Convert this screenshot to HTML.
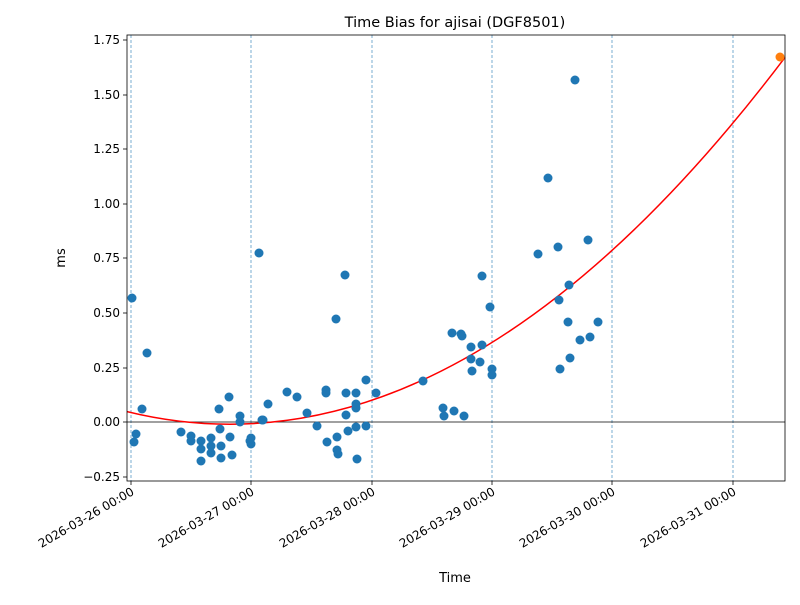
<!DOCTYPE html>
<html><head><meta charset="utf-8"><style>
body{margin:0;background:#fff}
text{font-family:"DejaVu Sans","Liberation Sans",sans-serif;fill:#000}
</style></head><body>
<svg width="800" height="600" xmlns="http://www.w3.org/2000/svg">
<rect width="800" height="600" fill="#fff"/>
<text x="455" y="27" font-size="14.5" text-anchor="middle">Time Bias for ajisai (DGF8501)</text>
<g stroke="#1f77b4" stroke-width="0.6" stroke-dasharray="3,2">
<line x1="131" y1="35" x2="131" y2="481"/>
<line x1="251" y1="35" x2="251" y2="481"/><line x1="372" y1="35" x2="372" y2="481"/>
<line x1="492" y1="35" x2="492" y2="481"/><line x1="612" y1="35" x2="612" y2="481"/>
<line x1="733" y1="35" x2="733" y2="481"/>
</g>
<line x1="127" y1="422" x2="785" y2="422" stroke="#000" stroke-width="0.8"/>
<path d="M127,411.6 Q456,492.3 785,57.4" fill="none" stroke="red" stroke-width="1.5"/>
<g fill="#1f77b4">
<circle cx="132" cy="298" r="4.5"/><circle cx="134" cy="442" r="4.5"/><circle cx="136" cy="434" r="4.5"/><circle cx="142" cy="409" r="4.5"/><circle cx="147" cy="353" r="4.5"/>
<circle cx="181" cy="432" r="4.5"/><circle cx="191" cy="436" r="4.5"/><circle cx="191" cy="441" r="4.5"/><circle cx="201" cy="441" r="4.5"/><circle cx="201" cy="449" r="4.5"/><circle cx="201" cy="461" r="4.5"/><circle cx="211" cy="438" r="4.5"/><circle cx="211" cy="446" r="4.5"/><circle cx="211" cy="453" r="4.5"/><circle cx="219" cy="409" r="4.5"/><circle cx="220" cy="429" r="4.5"/><circle cx="221" cy="446" r="4.5"/><circle cx="221" cy="458" r="4.5"/><circle cx="229" cy="397" r="4.5"/><circle cx="230" cy="437" r="4.5"/><circle cx="232" cy="455" r="4.5"/><circle cx="240" cy="416" r="4.5"/><circle cx="240" cy="422" r="4.5"/>
<circle cx="250" cy="441" r="4.5"/><circle cx="251" cy="444" r="4.5"/><circle cx="251" cy="438" r="4.5"/><circle cx="259" cy="253" r="4.5"/><circle cx="262" cy="420" r="4.5"/><circle cx="263" cy="420" r="4.5"/><circle cx="268" cy="404" r="4.5"/>
<circle cx="287" cy="392" r="4.5"/><circle cx="297" cy="397" r="4.5"/><circle cx="307" cy="413" r="4.5"/><circle cx="317" cy="426" r="4.5"/><circle cx="326" cy="390" r="4.5"/><circle cx="326" cy="393" r="4.5"/><circle cx="327" cy="442" r="4.5"/><circle cx="336" cy="319" r="4.5"/><circle cx="337" cy="437" r="4.5"/><circle cx="337" cy="450" r="4.5"/><circle cx="338" cy="454" r="4.5"/><circle cx="345" cy="275" r="4.5"/><circle cx="346" cy="393" r="4.5"/><circle cx="346" cy="415" r="4.5"/><circle cx="348" cy="431" r="4.5"/><circle cx="356" cy="393" r="4.5"/><circle cx="356" cy="404" r="4.5"/><circle cx="356" cy="408" r="4.5"/><circle cx="356" cy="427" r="4.5"/><circle cx="357" cy="459" r="4.5"/><circle cx="366" cy="380" r="4.5"/><circle cx="366" cy="426" r="4.5"/><circle cx="376" cy="393" r="4.5"/>
<circle cx="423" cy="381" r="4.5"/><circle cx="443" cy="408" r="4.5"/><circle cx="444" cy="416" r="4.5"/><circle cx="454" cy="411" r="4.5"/><circle cx="452" cy="333" r="4.5"/><circle cx="461" cy="334" r="4.5"/><circle cx="462" cy="336" r="4.5"/><circle cx="464" cy="416" r="4.5"/><circle cx="471" cy="347" r="4.5"/><circle cx="471" cy="359" r="4.5"/><circle cx="472" cy="371" r="4.5"/><circle cx="480" cy="362" r="4.5"/><circle cx="482" cy="345" r="4.5"/><circle cx="482" cy="276" r="4.5"/><circle cx="490" cy="307" r="4.5"/><circle cx="492" cy="369" r="4.5"/><circle cx="492" cy="375" r="4.5"/>
<circle cx="538" cy="254" r="4.5"/><circle cx="548" cy="178" r="4.5"/><circle cx="558" cy="247" r="4.5"/><circle cx="559" cy="300" r="4.5"/><circle cx="560" cy="369" r="4.5"/><circle cx="568" cy="322" r="4.5"/><circle cx="569" cy="285" r="4.5"/><circle cx="570" cy="358" r="4.5"/><circle cx="575" cy="80" r="4.5"/><circle cx="580" cy="340" r="4.5"/><circle cx="588" cy="240" r="4.5"/><circle cx="590" cy="337" r="4.5"/><circle cx="598" cy="322" r="4.5"/>
</g>
<circle cx="780" cy="57" r="4.5" fill="#ff7f0e"/>
<rect x="127" y="35" width="658" height="446" fill="none" stroke="#000" stroke-width="0.8"/>
<g stroke="#000" stroke-width="0.8">
<line x1="123" y1="40" x2="127" y2="40"/><line x1="123" y1="95" x2="127" y2="95"/><line x1="123" y1="149" x2="127" y2="149"/><line x1="123" y1="204" x2="127" y2="204"/><line x1="123" y1="258" x2="127" y2="258"/><line x1="123" y1="313" x2="127" y2="313"/><line x1="123" y1="368" x2="127" y2="368"/><line x1="123" y1="422" x2="127" y2="422"/><line x1="123" y1="477" x2="127" y2="477"/>
<line x1="131" y1="481" x2="131" y2="485"/><line x1="251" y1="481" x2="251" y2="485"/><line x1="372" y1="481" x2="372" y2="485"/><line x1="492" y1="481" x2="492" y2="485"/><line x1="612" y1="481" x2="612" y2="485"/><line x1="733" y1="481" x2="733" y2="485"/>
</g>
<g font-size="12" text-anchor="end">
<text x="120" y="44">1.75</text><text x="120" y="99">1.50</text><text x="120" y="153">1.25</text><text x="120" y="208">1.00</text><text x="120" y="262">0.75</text><text x="120" y="317">0.50</text><text x="120" y="372">0.25</text><text x="120" y="426">0.00</text><text x="120" y="481">−0.25</text>
<text transform="translate(135,494) rotate(-30)">2026-03-26 00:00</text>
<text transform="translate(255,494) rotate(-30)">2026-03-27 00:00</text>
<text transform="translate(376,494) rotate(-30)">2026-03-28 00:00</text>
<text transform="translate(496,494) rotate(-30)">2026-03-29 00:00</text>
<text transform="translate(616,494) rotate(-30)">2026-03-30 00:00</text>
<text transform="translate(737,494) rotate(-30)">2026-03-31 00:00</text>
</g>
<text x="455" y="582" font-size="13" text-anchor="middle">Time</text>
<text transform="translate(65,258) rotate(-90)" font-size="13" text-anchor="middle">ms</text>
</svg>
</body></html>
